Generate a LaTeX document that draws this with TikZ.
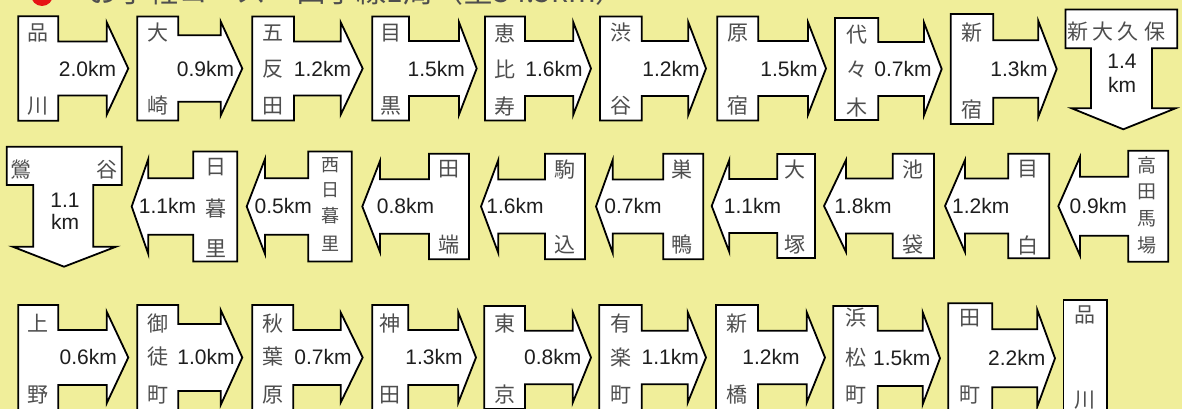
\documentclass[tikz,border=0pt]{standalone}
\usepackage{fontspec}
\setmainfont{Liberation Sans}
\newfontfamily\jpf{Noto Sans CJK JP}
\definecolor{bgk}{RGB}{240,238,154}
\definecolor{jpc}{RGB}{78,78,78}
\definecolor{kmc}{RGB}{30,30,30}
\definecolor{dotred}{RGB}{230,20,20}
\newcommand{\rarrw}[8]{\draw[arr] (#1,#5-#6) -- (#2,#5-#6) -- (#2,#5-#7) -- (#3,#5-#7) -- (#3,#5-#8) -- (#4,#5) -- (#3,#5+#8) -- (#3,#5+#7) -- (#2,#5+#7) -- (#2,#5+#6) -- (#1,#5+#6) -- cycle;}
\newcommand{\larrw}[8]{\draw[arr] (#2,#5-#6) -- (#1,#5-#6) -- (#1,#5-#7) -- (#3,#5-#7) -- (#3,#5-#8) -- (#4,#5) -- (#3,#5+#8) -- (#3,#5+#7) -- (#1,#5+#7) -- (#1,#5+#6) -- (#2,#5+#6) -- cycle;}
\newcommand{\jt}[4]{\node[st] (#1) at (#2,#3) {#4};}
\newcommand{\kt}[4]{\node[kml] (#1) at (#2,#3) {#4};}
\tikzset{
  arr/.style={draw=black, line width=1.8pt, fill=white, line join=miter},
  st/.style={font=\jpf\fontsize{21}{21}\selectfont, text=jpc, inner sep=0pt},
  sts/.style={font=\jpf\fontsize{18}{18}\selectfont, text=jpc, inner sep=0pt},
  stm/.style={font=\jpf\fontsize{19}{19}\selectfont, text=jpc, inner sep=0pt},
  kml/.style={font=\fontsize{21}{21}\selectfont, text=kmc, inner sep=0pt},
  ttl/.style={font=\jpf\fontsize{30}{30}\selectfont, text=jpc, inner sep=0pt, anchor=base west}
}
\begin{document}
\begin{tikzpicture}[x=1pt,y=-1pt]
\useasboundingbox (0,0) rectangle (1182,409);
\clip (0,0) rectangle (1182,409);
\fill[bgk] (0,0) rectangle (1182,409);
% title (cut off at the top, as in the reference)
\fill[dotred] (42,-5) circle (11);
\node[ttl] (title) at (88,3) {お手軽コース－山手線1周（全34.5km）};
% ---------- row 1 ----------
\rarrw{18.3}{58.3}{106.7}{128.3}{68.5}{52.3}{27}{46.2}
\rarrw{137.3}{178.3}{220.7}{242.3}{68.5}{52}{33.3}{47}
\rarrw{252.3}{294}{340.7}{362.7}{68.5}{52}{27}{46.2}
\rarrw{372.3}{409}{459}{476.7}{68.5}{52}{27.5}{46.2}
\rarrw{485}{525}{573.3}{591}{68.5}{52}{27.5}{46.2}
\rarrw{600}{641.7}{688.3}{706}{68.5}{52}{27.5}{46.2}
\rarrw{717.3}{758.3}{808}{826}{68.5}{52}{27.5}{46.2}
\rarrw{835}{878.3}{924}{941.7}{69}{51}{27}{46.3}
\rarrw{950.7}{993.3}{1038.3}{1056.7}{69}{55}{28.8}{48}
\draw[arr] (1065.5,9.5) -- (1177.3,9.5) -- (1177.3,48.3) -- (1152,48.3) -- (1152,108.3) -- (1175.5,108.3) -- (1123.3,129.3) -- (1071.7,108.3) -- (1091,108.3) -- (1091,48.3) -- (1065.5,48.3) -- cycle;
\jt{a1}{38.3}{33}{品}\jt{a2}{38.3}{106}{川}
\jt{b1}{157.8}{33}{大}\jt{b2}{157.8}{106}{崎}
\jt{c1}{273.2}{33}{五}\jt{c2}{273.2}{69}{反}\jt{c3}{273.2}{106}{田}
\jt{d1}{390.7}{33}{目}\jt{d2}{390.7}{106}{黒}
\jt{e1}{505}{33}{恵}\jt{e2}{505}{69}{比}\jt{e3}{505}{106}{寿}
\jt{f1}{620.8}{33}{渋}\jt{f2}{620.8}{106}{谷}
\jt{g1}{737.8}{33}{原}\jt{g2}{737.8}{106}{宿}
\jt{h1}{857}{35}{代}\jt{h2}{857}{69}{々}\jt{h3}{857}{108}{木}
\jt{i1}{972}{33}{新}\jt{i2}{972}{110}{宿}
\jt{j1}{1078.3}{31.7}{新}\jt{j2}{1103.3}{31.7}{大}\jt{j3}{1128.3}{31.7}{久}\jt{j4}{1155}{31.7}{保}
\kt{ka}{87.5}{69}{2.0km}
\kt{kb}{205.5}{69}{0.9km}
\kt{kc}{322.5}{69}{1.2km}
\kt{kd}{436.3}{69}{1.5km}
\kt{ke}{554}{69}{1.6km}
\kt{kf}{671}{69}{1.2km}
\kt{kg}{789}{69}{1.5km}
\kt{kh}{903}{69}{0.7km}
\kt{ki}{1019}{69}{1.3km}
\kt{kj1}{1122}{61.7}{1.4}\kt{kj2}{1122}{85}{km}
% ---------- row 2 ----------
\draw[arr] (6.7,146.7) -- (121.7,146.7) -- (121.7,185) -- (93.3,185) -- (93.3,246.7) -- (116,246.7) -- (64,266.7) -- (12.7,246.7) -- (33.3,246.7) -- (33.3,185) -- (6.7,185) -- cycle;
\larrw{193.3}{237.3}{148.3}{131.7}{206.5}{55}{28.3}{47.5}
\larrw{308.3}{351.7}{265}{246.7}{206.5}{55}{28.3}{47.5}
\larrw{429}{469}{380}{362.3}{206.5}{52.7}{27.2}{45.5}
\larrw{545}{585}{498.3}{481}{206.5}{52.7}{27}{46.5}
\larrw{663.3}{703.3}{612.7}{596}{206.5}{52.7}{27}{46.5}
\larrw{777.3}{815}{729.3}{711.7}{206}{52}{27}{46}
\larrw{892.7}{934}{846}{824}{206}{52.2}{27.5}{46}
\larrw{1008.3}{1049.3}{965}{945}{206}{52.2}{27.5}{46}
\larrw{1128.3}{1168.3}{1080}{1058.3}{206.2}{55.5}{29.5}{49.3}
\jt{l1}{20.7}{169.3}{鶯}\jt{l2}{106.7}{169.3}{谷}
\kt{kl1}{65}{200}{1.1}\kt{kl2}{65}{221.7}{km}
\jt{m1}{216}{166.7}{日}\jt{m2}{216}{208.3}{暮}\jt{m3}{216}{248.3}{里}
\node[sts] (n1) at (330,165) {西};\node[sts] (n2) at (330,189.8) {日};\node[sts] (n3) at (330,215.5) {暮};\node[sts] (n4) at (330,243.3) {里};
\jt{o1}{448.7}{169.3}{田}\jt{o2}{448.7}{245}{端}
\jt{p1}{565}{169.3}{駒}\jt{p2}{565}{245}{込}
\jt{q1}{682}{169.3}{巣}\jt{q2}{682}{245}{鴨}
\jt{r1}{795}{169.3}{大}\jt{r2}{795}{245}{塚}
\jt{s1}{913}{169.3}{池}\jt{s2}{913}{245}{袋}
\jt{t1}{1028}{169.3}{目}\jt{t2}{1028}{245}{白}
\node[stm] (u1) at (1147.3,165) {高};\node[stm] (u2) at (1147.3,191.7) {田};\node[stm] (u3) at (1147.3,218.3) {馬};\node[stm] (u4) at (1147.3,245) {場};
\kt{km}{167.5}{206}{1.1km}
\kt{kn}{283.3}{206}{0.5km}
\kt{ko}{405.5}{206}{0.8km}
\kt{kp}{515}{206}{1.6km}
\kt{kq}{633}{206}{0.7km}
\kt{kr}{752.5}{206}{1.1km}
\kt{ks}{863}{206}{1.8km}
\kt{kt}{980.8}{206}{1.2km}
\kt{ku}{1098.3}{206}{0.9km}
% ---------- row 3 ----------
\rarrw{18.3}{58.3}{106.7}{128.3}{357.5}{52.5}{27.5}{45.8}
\rarrw{137.3}{178.3}{220.7}{242.3}{357.5}{52.5}{33.5}{47.5}
\rarrw{252.3}{293.3}{340.7}{362.7}{357.5}{52.5}{27.5}{45}
\rarrw{372.3}{408.3}{458.3}{476}{357.5}{52.5}{27.5}{45.2}
\rarrw{484.3}{525}{572.7}{591}{357.5}{51.5}{26.8}{45.2}
\rarrw{599.3}{641.7}{687.7}{706}{357.5}{52.5}{26.8}{45.2}
\rarrw{716}{758}{806.7}{825}{357.5}{52.5}{26.8}{45.2}
\rarrw{833.3}{877.7}{922.7}{940}{358.3}{52.3}{27.6}{46}
\rarrw{948.3}{992.3}{1037.3}{1055}{358.3}{55}{29}{48.3}
\draw[arr] (1063.5,300) rectangle (1107.3,420);
\jt{v1}{38.3}{323.3}{上}\jt{v2}{38.3}{395}{野}
\jt{w1}{157.8}{323.3}{御}\jt{w2}{157.8}{357}{徒}\jt{w3}{157.8}{395}{町}
\jt{x1}{272.8}{323.3}{秋}\jt{x2}{272.8}{357}{葉}\jt{x3}{272.8}{395}{原}
\jt{y1}{390.3}{323.3}{神}\jt{y2}{390.3}{395}{田}
\jt{z1}{504.7}{323.3}{東}\jt{z2}{504.7}{395}{京}
\jt{aa1}{620.5}{323.3}{有}\jt{aa2}{620.5}{357}{楽}\jt{aa3}{620.5}{395}{町}
\jt{ab1}{737}{323.3}{新}\jt{ab2}{737}{395}{橋}
\jt{ac1}{855.5}{318}{浜}\jt{ac2}{855.5}{358}{松}\jt{ac3}{855.5}{395}{町}
\jt{ad1}{970.3}{318.3}{田}\jt{ad2}{970.3}{395}{町}
\jt{ae1}{1085.4}{315}{品}\jt{ae2}{1085.4}{400}{川}
\kt{kv}{88.3}{357}{0.6km}
\kt{kw}{206}{357}{1.0km}
\kt{kx}{323}{357}{0.7km}
\kt{ky}{434}{357}{1.3km}
\kt{kz}{552.7}{357}{0.8km}
\kt{kaa}{670.3}{357}{1.1km}
\kt{kab}{771}{357}{1.2km}
\kt{kac}{901.7}{358}{1.5km}
\kt{kad}{1016.7}{358}{2.2km}
\end{tikzpicture}
\end{document}
